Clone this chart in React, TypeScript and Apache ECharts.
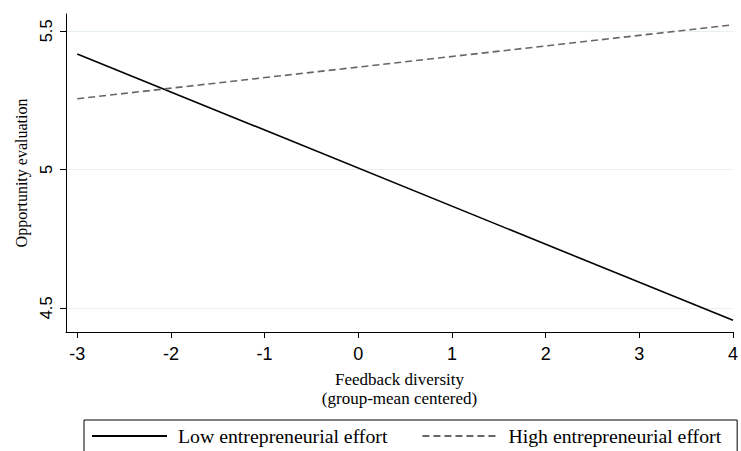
import React, { useEffect, useRef } from "react";
import * as echarts from "echarts";

const xEnds = [-3, 4];
const lowEffort = [5.417, 4.455];
const highEffort = [5.255, 5.522];
const xTicks = [-3, -2, -1, 0, 1, 2, 3, 4];
const yTicks = [4.5, 5, 5.5];
const seriesNames = ["Low entrepreneurial effort", "High entrepreneurial effort"];

export default function App() {
  const ref = useRef<HTMLDivElement>(null);
  useEffect(() => {
    document.body.style.margin = "0";
    const chart = echarts.init(ref.current!, null, { renderer: "svg" });
    const serif = "'Liberation Serif', 'Times New Roman', serif";
    const sans = "'Liberation Sans', Arial, sans-serif";
    chart.setOption({
      animation: false,
      backgroundColor: "#ffffff",
      grid: { left: 66, right: 3, top: 14, bottom: 119, containLabel: false },
      xAxis: {
        type: "value",
        min: -3.12,
        max: 4,
        name: "Feedback diversity\n(group-mean centered)",
        nameLocation: "middle",
        nameGap: 38,
        nameTextStyle: { fontFamily: serif, fontSize: 17, color: "#000", lineHeight: 19 },
        axisLine: { show: true, onZero: false, lineStyle: { color: "#000", width: 1 } },
        axisTick: { show: true, length: 6, lineStyle: { color: "#000" }, customValues: xTicks },
        axisLabel: { fontFamily: sans, fontSize: 18, color: "#000", margin: 13, customValues: xTicks },
        splitLine: { show: false },
      },
      yAxis: {
        type: "value",
        min: 4.413,
        max: 5.561,
        name: "Opportunity evaluation",
        nameLocation: "middle",
        nameGap: 37,
        nameRotate: 90,
        nameTextStyle: { fontFamily: serif, fontSize: 16, color: "#000" },
        axisLine: { show: true, onZero: false, lineStyle: { color: "#000", width: 1 } },
        axisTick: { show: true, length: 6, lineStyle: { color: "#000" }, customValues: yTicks },
        axisLabel: {
          fontFamily: sans,
          fontSize: 16.5,
          color: "#000",
          rotate: 90,
          margin: 12,
          customValues: yTicks,
          formatter: (v: number) => String(v),
        },
        splitLine: { show: true, lineStyle: { color: "#e6eff2", width: 1 } },
      },
      legend: {
        left: 84,
        top: 420,
        orient: "horizontal",
        itemWidth: 75,
        itemHeight: 14,
        itemGap: 34,
        padding: [6, 16, 6, 7],
        borderColor: "#000",
        borderWidth: 1,
        itemStyle: { opacity: 0 },
        textStyle: { fontFamily: serif, fontSize: 19.8, color: "#000", padding: [0, 0, 0, 6] },
        data: seriesNames,
      },
      series: [
        {
          name: seriesNames[0],
          type: "line",
          data: xEnds.map((x, i) => [x, lowEffort[i]]),
          symbol: "none",
          lineStyle: { color: "#000", width: 1.6, type: "solid" },
          itemStyle: { color: "#000" },
        },
        {
          name: seriesNames[1],
          type: "line",
          data: xEnds.map((x, i) => [x, highEffort[i]]),
          symbol: "none",
          lineStyle: { color: "#666", width: 1.6, type: [7, 4] },
          itemStyle: { color: "#666" },
        },
      ],
    });
    return () => chart.dispose();
  }, []);
  return <div ref={ref} style={{ position: "fixed", left: 0, top: 0, width: 741, height: 451 }} />;
}
